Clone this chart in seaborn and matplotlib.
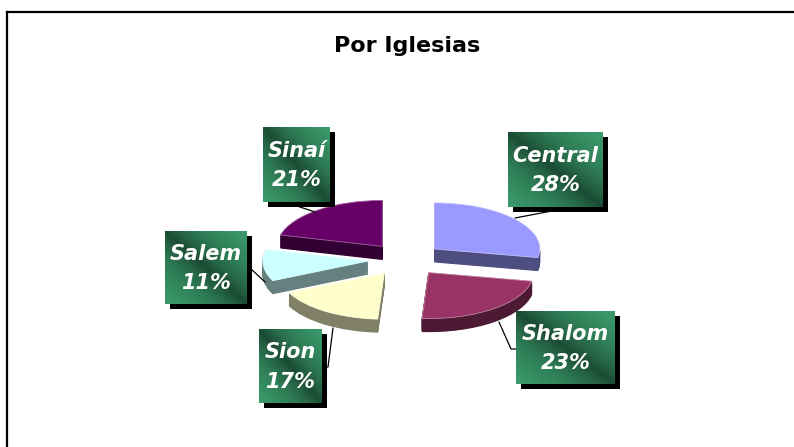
import numpy as np
import matplotlib
matplotlib.use("Agg")
import matplotlib.pyplot as plt
from matplotlib.colors import LinearSegmentedColormap, to_rgb
import seaborn as sns

# datos
iglesias = ["Central", "Shalom", "Sion", "Salem", "Sinaí"]
porcentajes = [28, 23, 17, 11, 21]
colores = ["#9999FF", "#993366", "#FFFFCC", "#CCFFFF", "#660066"]
titulo = "Por Iglesias"

sns.set_theme(style="white")
plt.rcParams["font.family"] = ["DejaVu Sans"]

W, H = 794, 447
fig = plt.figure(figsize=(W / 100, H / 100), dpi=100)

# geometria del pastel (pixeles)
cx, cy = 405.5, 259.5
rx, ry = 105, 46
profundidad = 13
explode = 0.36
L = 2.0

ax = fig.add_axes([(cx - L * rx) / W, (H - cy - L * ry) / H, 2 * L * rx / W, 2 * L * ry / H])
ax.set_zorder(1)

# orden de atras hacia adelante
rango = {"Sinaí": 0, "Central": 1, "Salem": 2, "Shalom": 3, "Sion": 4}
laterales = [tuple(np.array(to_rgb(c)) * 0.5) for c in colores]
bordes = [tuple(np.array(to_rgb(c)) * 0.6 + 0.4) for c in colores]

n_capas = 14
for k, d in enumerate(np.linspace(profundidad / ry, 0, n_capas + 1)):
    es_tapa = (k == n_capas)
    wedges, _ = ax.pie(porcentajes, explode=[explode] * len(porcentajes),
                       colors=colores if es_tapa else laterales,
                       startangle=90, counterclock=False, radius=1,
                       center=(0, -d))
    for w, nombre, lat, bor in zip(wedges, iglesias, laterales, bordes):
        w.set_zorder(rango[nombre] * 100 + k)
        if es_tapa:
            w.set_edgecolor(bor)
            w.set_linewidth(0.6)
        else:
            w.set_edgecolor(lat)
            w.set_linewidth(0.8)

ax.set_aspect("auto")
ax.set_xlim(-L, L)
ax.set_ylim(-L, L)
ax.axis("off")

# capa superior en pixeles para titulo, etiquetas y marco
ov = fig.add_axes([0, 0, 1, 1])
ov.set_zorder(2)
ov.axis("off")

ov.plot([7, 7], [H, 12], color="black", lw=1.6, solid_capstyle="projecting")
ov.plot([7, W], [12, 12], color="black", lw=1.6, solid_capstyle="projecting")

ov.text(407.5, 51.7, titulo, ha="center", va="baseline", fontsize=16,
        fontweight="bold", color="black")

cajas = {
    "Central": (508, 132, 603, 207),
    "Shalom": (516, 311, 615, 384),
    "Sion": (259, 329, 322, 403),
    "Salem": (165, 231, 247, 304),
    "Sinaí": (263, 127, 330, 202),
}
guias = {
    "Central": [(515, 218), (557, 210)],
    "Shalom": [(499, 322), (511, 349), (516, 349)],
    "Sion": [(333, 328), (328, 367), (326, 367)],
    "Salem": [(250, 268), (265, 282)],
    "Sinaí": [(297, 206), (315, 212)],
}

verde = LinearSegmentedColormap.from_list("verde", ["#1B4A33", "#2E7C55", "#3C9C6C"])
gx, gy = np.meshgrid(np.linspace(0, 1, 80), np.linspace(0, 1, 80))
grad = np.abs(gx - gy) ** 0.8

for nombre, pct in zip(iglesias, porcentajes):
    x0, y0, x1, y1 = cajas[nombre]
    pts = np.array(guias[nombre])
    ov.plot(pts[:, 0], pts[:, 1], color="black", lw=0.9, zorder=2)
    ov.add_patch(plt.Rectangle((x0 + 4.5, y0 + 4.5), x1 - x0, y1 - y0,
                               facecolor="black", edgecolor="none", zorder=3))
    ov.imshow(grad, cmap=verde, extent=(x0, x1, y1, y0), aspect="auto",
              interpolation="bilinear", zorder=4)
    ov.text((x0 + x1) / 2, (y0 + y1) / 2 + 1, f"{nombre}\n{pct}%", ha="center",
            va="center", color="white", fontsize=15, fontweight="bold",
            fontstyle="italic", linespacing=1.6, zorder=5)

ov.set_xlim(0, W)
ov.set_ylim(H, 0)

fig.savefig("out.png", dpi=100)
